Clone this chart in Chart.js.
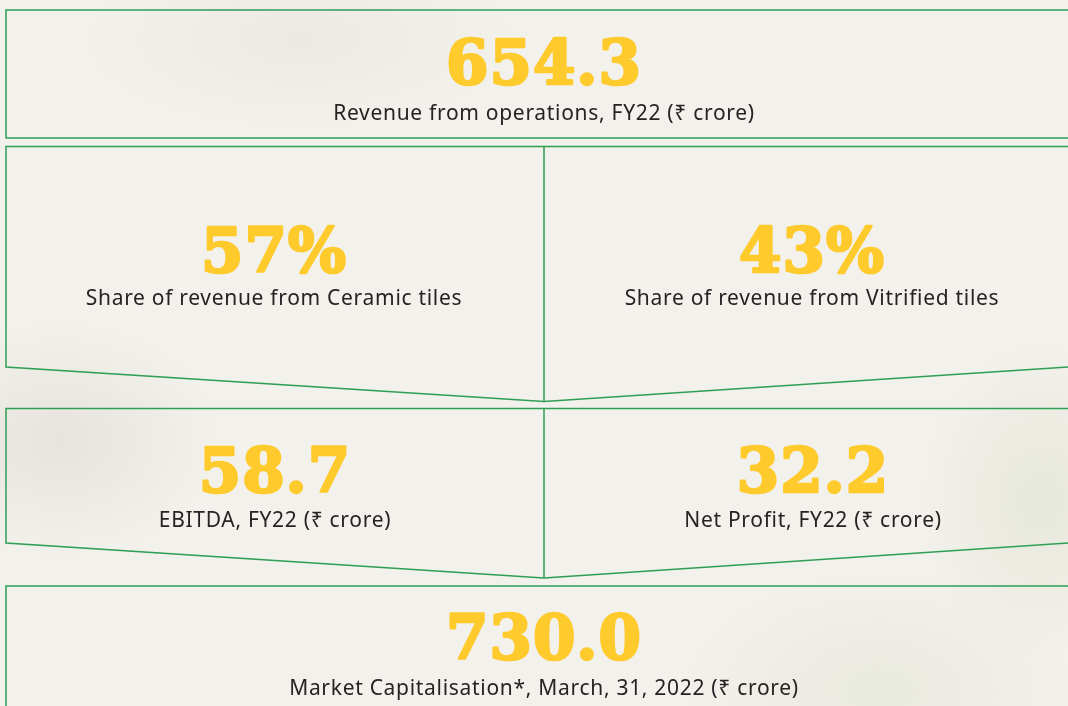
<!DOCTYPE html>
<html>
<head>
<meta charset="utf-8">
<script src="https://cdn.jsdelivr.net/npm/chart.js@4"></script>
<style>
  html, body { margin: 0; padding: 0; overflow: hidden; }
  body {
    width: 1068px; height: 706px;
    background:
      radial-gradient(ellipse 160px 120px at 60px 440px, rgba(215,212,200,0.45), rgba(215,212,200,0) 100%),
      radial-gradient(ellipse 220px 90px at 300px 40px, rgba(225,222,212,0.4), rgba(225,222,212,0) 100%),
      radial-gradient(ellipse 120px 160px at 1040px 500px, rgba(220,222,205,0.5), rgba(220,222,205,0) 100%),
      radial-gradient(ellipse 200px 120px at 880px 690px, rgba(222,224,210,0.45), rgba(222,224,210,0) 100%),
      #f2f1eb;
  }
  #chart { display: block; }
</style>
</head>
<body>
<canvas id="chart" width="1068" height="706"></canvas>
<script>
// key figures, FY22
const captions = [
  'Revenue from operations, FY22 (₹ crore)',
  'Share of revenue from Ceramic tiles',
  'Share of revenue from Vitrified tiles',
  'EBITDA, FY22 (₹ crore)',
  'Net Profit, FY22 (₹ crore)',
  'Market Capitalisation*, March, 31, 2022 (₹ crore)'
];
const values = [654.3, 57, 43, 58.7, 32.2, 730.0];
const units = ['', '%', '%', '', '', ''];
const decimals = [1, 0, 0, 1, 1, 1];

// panel layout (in page units)
const LEFT = 6, RIGHT = 1082, MID = 544;
const slots = [
  { cx: (LEFT + RIGHT) / 2, valueY: 84, captionY: 120 },
  { cx: (LEFT + MID) / 2 - 1, valueY: 272, captionY: 305 },
  { cx: (MID + RIGHT) / 2 - 1, valueY: 272, captionY: 305 },
  { cx: (LEFT + MID) / 2, valueY: 492, captionY: 527 },
  { cx: (MID + RIGHT) / 2, valueY: 492, captionY: 527 },
  { cx: (LEFT + RIGHT) / 2, valueY: 659, captionY: 695 }
];

const frames = [
  [[RIGHT, 10], [LEFT, 10], [LEFT, 138], [RIGHT, 138]],
  [[RIGHT, 146.5], [LEFT, 146.5], [LEFT, 367], [MID, 401.5], [RIGHT, 366]],
  [[MID, 146.5], [MID, 401.5]],
  [[RIGHT, 408.5], [LEFT, 408.5], [LEFT, 543], [MID, 578], [RIGHT, 542]],
  [[MID, 408.5], [MID, 578]],
  [[RIGHT, 586], [LEFT, 586], [LEFT, 720]]
];

const GREEN = '#2f9e55';
const YELLOW = '#ffca2c';

const figureLabels = {
  id: 'figureLabels',
  afterDatasetsDraw(chart) {
    const ctx = chart.ctx;
    const xs = chart.scales.x, ys = chart.scales.y;
    ctx.save();
    ctx.textAlign = 'center';
    ctx.textBaseline = 'alphabetic';
    ctx.lineJoin = 'round';
    values.forEach((v, i) => {
      const s = slots[i];
      const x = xs.getPixelForValue(s.cx);
      const vy = ys.getPixelForValue(s.valueY);
      const txt = v.toFixed(decimals[i]) + units[i];
      ctx.fillStyle = YELLOW;
      ctx.strokeStyle = YELLOW;
      ctx.lineWidth = 2.6;
      ctx.font = 'bold 61px "DejaVu Serif", serif';
      ctx.letterSpacing = '1px';
      ctx.strokeText(txt, x, vy);
      ctx.fillText(txt, x, vy);
      ctx.fillStyle = '#262324';
      ctx.font = '21px "Noto Sans", "DejaVu Sans", sans-serif';
      ctx.letterSpacing = '0.7px';
      ctx.fillText(captions[i], x, ys.getPixelForValue(s.captionY));
    });
    ctx.restore();
  }
};

new Chart(document.getElementById('chart'), {
  type: 'scatter',
  data: {
    datasets: frames.map(f => ({
      data: f.map(p => ({ x: p[0], y: p[1] })),
      showLine: true,
      borderColor: GREEN,
      borderWidth: 1.5,
      pointRadius: 0,
      fill: false,
      tension: 0
    }))
  },
  options: {
    responsive: false,
    animation: false,
    layout: { padding: 0 },
    scales: {
      x: { type: 'linear', min: 0, max: 1068, display: false },
      y: { type: 'linear', min: 0, max: 706, reverse: true, display: false }
    },
    plugins: {
      legend: { display: false },
      tooltip: { enabled: false }
    }
  },
  plugins: [figureLabels]
});
</script>
</body>
</html>
